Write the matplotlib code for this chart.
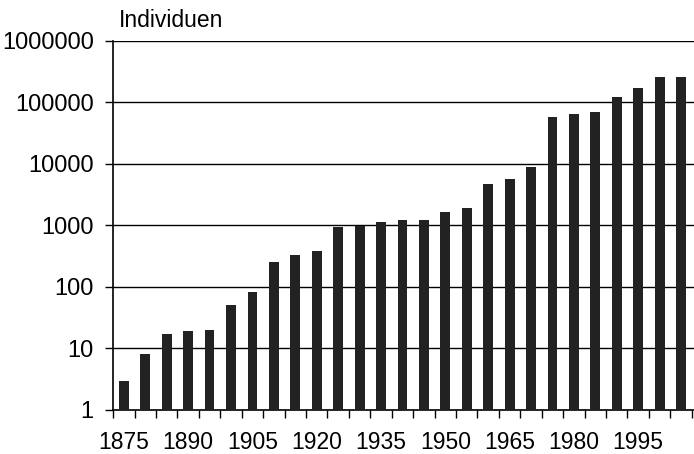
import matplotlib
matplotlib.use("Agg")
import matplotlib.pyplot as plt
import numpy as np

plt.rcParams['font.family'] = ['Liberation Sans', 'DejaVu Sans']

years = list(range(1875, 2010, 5))
counts = [3, 8, 17, 19, 20, 51, 82, 255, 330, 385,
          960, 980, 1150, 1230, 1230, 1660, 1900, 4700, 5700, 8800,
          57000, 64000, 69000, 121000, 170000, 257000, 257000]
label_years = [1875, 1890, 1905, 1920, 1935, 1950, 1965, 1980, 1995]

fig = plt.figure(figsize=(6.94, 4.54), dpi=100)
ax = fig.add_axes([0.163, 0.097, 0.84, 0.813])

x = np.arange(len(years))
ax.bar(x, counts, width=0.46, color='#222222', zorder=3)

ax.set_yscale('log')
ax.set_ylim(1, 1000000)
yt = [1, 10, 100, 1000, 10000, 100000, 1000000]
ax.set_yticks(yt)
ax.set_yticklabels([str(v) for v in yt])
ax.yaxis.set_minor_locator(matplotlib.ticker.NullLocator())
for v in yt[1:]:
    ax.axhline(v, color='black', lw=1.0, zorder=2)

ax.set_xlim(-0.5, len(years) - 0.3)
ax.set_xticks([years.index(y) for y in label_years])
ax.set_xticklabels([str(y) for y in label_years])
ax.set_xticks(np.arange(len(years) + 1) - 0.5, minor=True)
ax.tick_params(axis='x', which='major', length=0, pad=15.5, labelsize=16.5)
ax.tick_params(axis='x', which='minor', length=6, width=1, direction='out')
ax.tick_params(axis='y', length=6, width=1, pad=8, labelsize=17)

for s in ['top', 'right']:
    ax.spines[s].set_visible(False)
ax.spines['left'].set_linewidth(1.2)
ax.spines['bottom'].set_linewidth(1.2)

fig.text(0.172, 0.955, 'Individuen', fontsize=16.5, ha='left', va='center')

fig.savefig('out.png', dpi=100)
